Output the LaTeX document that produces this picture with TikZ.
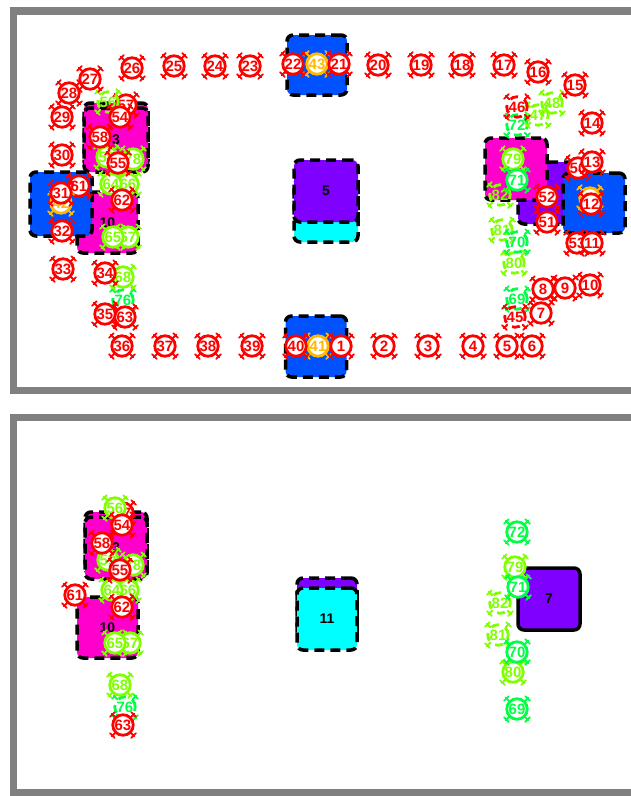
\documentclass[tikz,border=0pt]{standalone}
\usepackage{fontspec}
\setmainfont{Liberation Sans}
\usetikzlibrary{calc}
\definecolor{bxblue}{RGB}{0,82,255}
\definecolor{bxmag}{RGB}{255,0,204}
\definecolor{bxpur}{RGB}{128,0,255}
\definecolor{bxcyan}{RGB}{0,255,255}
\definecolor{mred}{RGB}{255,0,0}
\definecolor{mlime}{RGB}{128,255,0}
\definecolor{mgreen}{RGB}{0,255,70}
\definecolor{morange}{RGB}{255,185,0}
\definecolor{framegray}{RGB}{128,128,128}
\newcommand{\mkfeet}[3]{%
  \foreach \a in {45,135,225,315}{%
    \draw[feet,#3] ($(#1,#2)+(\a:11)$) -- ($(#1,#2)+(\a:16)$);
    \draw[feet,#3] ($(#1,#2)+(\a:15)+(\a+90:3.2)$) -- ($(#1,#2)+(\a:15)+(\a-90:3.2)$);
  }}
\newcommand{\mk}[5]{\mkfeet{#2}{#3}{#5}\node[mknode,draw=#5,text=#5] (#1) at (#2,#3) {#4};}
\newcommand{\mkg}[5]{\mkfeet{#2}{#3}{#5}\node[mkghost,draw=#5,text=#5] (#1) at (#2,#3) {#4};}
\begin{document}
\begin{tikzpicture}[x=1pt,y=-1pt,
  boxst/.style={draw=black,line width=3.5pt,dash pattern=on 10pt off 6pt,rounded corners=6pt,
    inner sep=0pt,font=\bfseries\fontsize{14}{14}\selectfont},
  solidbox/.style={draw=black,line width=3.5pt,rounded corners=6pt,
    inner sep=0pt,font=\bfseries\fontsize{14}{14}\selectfont},
  mknode/.style={circle,fill=white,line width=2.8pt,minimum size=20.5pt,inner sep=0pt,
    font=\bfseries\fontsize{15}{15}\selectfont},
  mkghost/.style={circle,line width=2.8pt,minimum size=20.5pt,inner sep=0pt,
    dash pattern=on 8pt off 7pt,font=\bfseries\fontsize{15}{15}\selectfont},
  feet/.style={line width=1.8pt,line cap=round},
  framest/.style={draw=framegray,line width=7.5pt,line join=miter}]
\useasboundingbox[fill=white] (0,0) rectangle (630,796);
% frames
\draw[framest] (645,11) -- (13.5,11) -- (13.5,390.5) -- (645,390.5);
\draw[framest] (645,417.5) -- (13.5,417.5) -- (13.5,793) -- (645,793);

% ===== top panel boxes =====
\node[boxst,fill=bxblue,minimum width=60pt,minimum height=60pt] (tbluetop) at (317,65) {};
\node[boxst,fill=bxblue,minimum width=61pt,minimum height=61pt] (tbluebot) at (316,346.5) {};
\node[boxst,fill=bxcyan,minimum width=64pt,minimum height=62pt] (tcyan) at (326,211) {};
\node[boxst,fill=bxpur,minimum width=64pt,minimum height=62pt] (tpur5) at (326,191) {5};
\node[boxst,fill=bxmag,minimum width=61pt,minimum height=61pt] (tmag10) at (107.5,222.5) {10};
\node[boxst,fill=bxblue,minimum width=62pt,minimum height=64pt] (tblueleft) at (61,204) {};
\node[boxst,fill=bxmag,minimum width=64pt,minimum height=64pt] (tmagA) at (116,135) {};
\node[boxst,fill=bxmag,minimum width=64pt,minimum height=64pt] (tmagB) at (116,140) {3};
\node[boxst,fill=bxpur,minimum width=62pt,minimum height=62pt] (tpur7) at (549,193) {7};
\node[boxst,fill=bxmag,minimum width=62pt,minimum height=62pt] (tmagR) at (516,169) {};
\node[boxst,fill=bxblue,minimum width=62pt,minimum height=60pt] (tblueR) at (594,203) {};

% ===== top panel markers (descending) =====
\mkg{t82}{500}{195}{82}{mlime}
\mkg{t81}{502}{230}{81}{mlime}
\mkg{t80}{514}{263}{80}{mlime}
\mk{t79}{513}{159}{79}{mlime}
\mk{t78}{133}{159}{78}{mlime}
\mkg{t76}{123}{300}{76}{mgreen}
\mkg{t72}{517}{125}{72}{mgreen}
\mk{t71}{517}{180}{71}{mgreen}
\mkg{t70}{517}{242}{70}{mgreen}
\mkg{t69}{517}{299}{69}{mgreen}
\mk{t68}{123}{277}{68}{mlime}
\mk{t67}{128}{237}{67}{mlime}
\mk{t66}{128}{184}{66}{mlime}
\mk{t65}{113}{237}{65}{mlime}
\mk{t64}{111}{184}{64}{mlime}
\mk{t63}{125}{317}{63}{mred}
\mk{t62}{122}{200}{62}{mred}
\mk{t61}{79}{186}{61}{mred}
\mk{t59}{107}{157}{59}{mlime}
\mk{t58}{100}{137}{58}{mred}
\mk{t57}{126}{105}{57}{mred}
\mkg{t56}{108}{102}{56}{mlime}
\mk{t55}{118}{163}{55}{mred}
\mk{t54}{120}{117}{54}{mred}
\mk{t53}{577}{243}{53}{mred}
\mk{t52}{547}{197}{52}{mred}
\mk{t51}{547}{222}{51}{mred}
\mk{t50}{578}{168}{50}{mred}
\mkg{t48}{552}{103}{48}{mlime}
\mkg{t47}{538}{115}{47}{mlime}
\mkg{t46}{517}{107}{46}{mred}
\mkg{t45}{515}{317}{45}{mred}
\mk{t44}{590}{198}{44}{morange}
\mk{t43}{317}{64}{43}{morange}
\mk{t42}{61}{203}{42}{morange}
\mk{t41}{318}{346}{41}{morange}
\mk{t40}{296}{346}{40}{mred}
\mk{t39}{252}{346}{39}{mred}
\mk{t38}{208}{346}{38}{mred}
\mk{t37}{165}{346}{37}{mred}
\mk{t36}{122}{346}{36}{mred}
\mk{t35}{105}{314}{35}{mred}
\mk{t34}{105}{273}{34}{mred}
\mk{t33}{63}{269}{33}{mred}
\mk{t32}{62}{231}{32}{mred}
\mk{t31}{61}{193}{31}{mred}
\mk{t30}{62}{155}{30}{mred}
\mk{t29}{62}{117}{29}{mred}
\mk{t28}{69}{93}{28}{mred}
\mk{t27}{90}{79}{27}{mred}
\mk{t26}{132}{68}{26}{mred}
\mk{t25}{174}{66}{25}{mred}
\mk{t24}{215}{66}{24}{mred}
\mk{t23}{250}{66}{23}{mred}
\mk{t22}{293}{64}{22}{mred}
\mk{t21}{339}{64}{21}{mred}
\mk{t20}{378}{65}{20}{mred}
\mk{t19}{421}{65}{19}{mred}
\mk{t18}{462}{65}{18}{mred}
\mk{t17}{504}{65}{17}{mred}
\mk{t16}{538}{72}{16}{mred}
\mk{t15}{575}{85}{15}{mred}
\mk{t14}{592}{123}{14}{mred}
\mk{t13}{592}{162}{13}{mred}
\mk{t12}{591}{204}{12}{mred}
\mk{t11}{592}{243}{11}{mred}
\mk{t10}{590}{285}{10}{mred}
\mk{t9}{565}{288}{9}{mred}
\mk{t8}{543}{289}{8}{mred}
\mk{t7}{541}{313}{7}{mred}
\mk{t6}{532}{346}{6}{mred}
\mk{t5}{507}{346}{5}{mred}
\mk{t4}{473}{346}{4}{mred}
\mk{t3}{428}{346}{3}{mred}
\mk{t2}{384}{346}{2}{mred}
\mk{t1}{341}{346}{1}{mred}

% ===== bottom panel boxes =====
\node[boxst,fill=bxmag,minimum width=62pt,minimum height=62pt] (bmagA) at (116,543) {};
\node[boxst,fill=bxmag,minimum width=62pt,minimum height=62pt] (bmagB) at (116,548) {3};
\node[boxst,fill=bxmag,minimum width=61pt,minimum height=61pt] (bmag10) at (107.5,627.5) {10};
\node[boxst,fill=bxpur,minimum width=60pt,minimum height=62pt] (bpur5) at (327,609) {};
\node[boxst,fill=bxcyan,minimum width=60pt,minimum height=62pt] (bcyan11) at (327,619) {11};
\node[solidbox,fill=bxpur,minimum width=62pt,minimum height=62pt] (bpur7) at (549,599) {7};

% ===== bottom panel markers (descending) =====
\mkg{b82}{500}{603}{82}{mlime}
\mkg{b81}{498}{635}{81}{mlime}
\mk{b80}{513}{672}{80}{mlime}
\mk{b79}{515}{567}{79}{mlime}
\mk{b78}{133}{565}{78}{mlime}
\mkg{b76}{125}{707}{76}{mgreen}
\mk{b72}{517}{532}{72}{mgreen}
\mk{b71}{518}{587}{71}{mgreen}
\mk{b70}{517}{652}{70}{mgreen}
\mk{b69}{517}{709}{69}{mgreen}
\mk{b68}{120}{685}{68}{mlime}
\mk{b67}{130}{643}{67}{mlime}
\mk{b66}{128}{590}{66}{mlime}
\mk{b65}{115}{643}{65}{mlime}
\mk{b64}{112}{590}{64}{mlime}
\mk{b63}{123}{725}{63}{mred}
\mk{b62}{122}{607}{62}{mred}
\mk{b61}{75}{595}{61}{mred}
\mk{b59}{108}{560}{59}{mlime}
\mk{b58}{102}{543}{58}{mred}
\mk{b57}{123}{513}{57}{mred}
\mk{b56}{115}{508}{56}{mlime}
\mk{b55}{120}{570}{55}{mred}
\mk{b54}{122}{525}{54}{mred}
\end{tikzpicture}
\end{document}
